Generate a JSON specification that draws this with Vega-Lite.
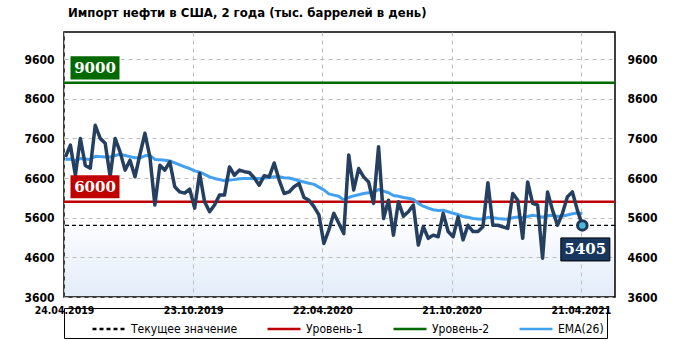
{
  "$schema": "https://vega.github.io/schema/vega-lite/v6.json",
  "width": 551,
  "height": 265,
  "autosize": {"type": "none"},
  "padding": {"left": 64, "top": 32, "right": 67, "bottom": 44},
  "background": "#ffffff",
  "title": {"text": "Импорт  нефти в США, 2 года (тыс. баррелей  в день)", "anchor": "start", "frame": "group", "offset": 12, "dx": 4, "font": "DejaVu Sans Condensed", "fontSize": 13, "fontWeight": "bold", "color": "#000000"},
  "datasets": {
    "series": [
      {"date": "2019-04-26", "value": 7130, "ema": 7070},
      {"date": "2019-05-03", "value": 7430, "ema": 7080},
      {"date": "2019-05-10", "value": 6670, "ema": 7040},
      {"date": "2019-05-17", "value": 7600, "ema": 7090},
      {"date": "2019-05-24", "value": 6920, "ema": 7080},
      {"date": "2019-05-31", "value": 6850, "ema": 7070},
      {"date": "2019-06-07", "value": 7930, "ema": 7150},
      {"date": "2019-06-14", "value": 7600, "ema": 7140},
      {"date": "2019-06-21", "value": 7480, "ema": 7130},
      {"date": "2019-06-28", "value": 6630, "ema": 7130},
      {"date": "2019-07-05", "value": 7600, "ema": 7170},
      {"date": "2019-07-12", "value": 7260, "ema": 7200},
      {"date": "2019-07-19", "value": 6800, "ema": 7170},
      {"date": "2019-07-26", "value": 7050, "ema": 7140},
      {"date": "2019-08-02", "value": 6630, "ema": 7110},
      {"date": "2019-08-09", "value": 7200, "ema": 7110},
      {"date": "2019-08-16", "value": 7730, "ema": 7160},
      {"date": "2019-08-23", "value": 7130, "ema": 7170},
      {"date": "2019-08-30", "value": 5920, "ema": 7070},
      {"date": "2019-09-06", "value": 6920, "ema": 7060},
      {"date": "2019-09-13", "value": 6800, "ema": 7050},
      {"date": "2019-09-20", "value": 7010, "ema": 7030},
      {"date": "2019-09-27", "value": 6380, "ema": 6980},
      {"date": "2019-10-04", "value": 6250, "ema": 6930},
      {"date": "2019-10-11", "value": 6220, "ema": 6880},
      {"date": "2019-10-18", "value": 6320, "ema": 6840},
      {"date": "2019-10-25", "value": 5840, "ema": 6780},
      {"date": "2019-11-01", "value": 6720, "ema": 6750},
      {"date": "2019-11-08", "value": 6000, "ema": 6690},
      {"date": "2019-11-15", "value": 5750, "ema": 6630},
      {"date": "2019-11-22", "value": 5920, "ema": 6590},
      {"date": "2019-11-29", "value": 6170, "ema": 6560},
      {"date": "2019-12-06", "value": 6170, "ema": 6530},
      {"date": "2019-12-13", "value": 6880, "ema": 6550},
      {"date": "2019-12-20", "value": 6670, "ema": 6560},
      {"date": "2019-12-27", "value": 6800, "ema": 6580},
      {"date": "2020-01-03", "value": 6760, "ema": 6590},
      {"date": "2020-01-10", "value": 6740, "ema": 6590},
      {"date": "2020-01-17", "value": 6600, "ema": 6590},
      {"date": "2020-01-24", "value": 6420, "ema": 6590},
      {"date": "2020-01-31", "value": 6660, "ema": 6600},
      {"date": "2020-02-07", "value": 6630, "ema": 6610},
      {"date": "2020-02-14", "value": 6980, "ema": 6630},
      {"date": "2020-02-21", "value": 6550, "ema": 6630},
      {"date": "2020-02-28", "value": 6210, "ema": 6610},
      {"date": "2020-03-06", "value": 6250, "ema": 6600},
      {"date": "2020-03-13", "value": 6380, "ema": 6570},
      {"date": "2020-03-20", "value": 6460, "ema": 6530},
      {"date": "2020-03-27", "value": 6110, "ema": 6500},
      {"date": "2020-04-03", "value": 6040, "ema": 6470},
      {"date": "2020-04-10", "value": 5880, "ema": 6440},
      {"date": "2020-04-17", "value": 5670, "ema": 6370},
      {"date": "2020-04-24", "value": 4950, "ema": 6300},
      {"date": "2020-05-01", "value": 5290, "ema": 6200},
      {"date": "2020-05-08", "value": 5710, "ema": 6170},
      {"date": "2020-05-15", "value": 5460, "ema": 6140},
      {"date": "2020-05-22", "value": 5200, "ema": 6050},
      {"date": "2020-05-29", "value": 7180, "ema": 6110},
      {"date": "2020-06-05", "value": 6300, "ema": 6150},
      {"date": "2020-06-12", "value": 6840, "ema": 6180},
      {"date": "2020-06-19", "value": 6630, "ema": 6210},
      {"date": "2020-06-26", "value": 6500, "ema": 6230},
      {"date": "2020-07-03", "value": 5960, "ema": 6250},
      {"date": "2020-07-10", "value": 7390, "ema": 6310},
      {"date": "2020-07-17", "value": 5580, "ema": 6270},
      {"date": "2020-07-24", "value": 6040, "ema": 6230},
      {"date": "2020-07-31", "value": 5160, "ema": 6160},
      {"date": "2020-08-07", "value": 6000, "ema": 6140},
      {"date": "2020-08-14", "value": 5640, "ema": 6110},
      {"date": "2020-08-21", "value": 5750, "ema": 6090},
      {"date": "2020-08-28", "value": 5920, "ema": 6060},
      {"date": "2020-09-04", "value": 4910, "ema": 5960},
      {"date": "2020-09-11", "value": 5370, "ema": 5890},
      {"date": "2020-09-18", "value": 5080, "ema": 5840},
      {"date": "2020-09-25", "value": 5160, "ema": 5800},
      {"date": "2020-10-02", "value": 5120, "ema": 5780},
      {"date": "2020-10-09", "value": 5710, "ema": 5790},
      {"date": "2020-10-16", "value": 5250, "ema": 5750},
      {"date": "2020-10-23", "value": 5120, "ema": 5710},
      {"date": "2020-10-30", "value": 5620, "ema": 5680},
      {"date": "2020-11-06", "value": 5040, "ema": 5630},
      {"date": "2020-11-13", "value": 5410, "ema": 5610},
      {"date": "2020-11-20", "value": 5250, "ema": 5580},
      {"date": "2020-11-27", "value": 5250, "ema": 5570},
      {"date": "2020-12-04", "value": 5370, "ema": 5560},
      {"date": "2020-12-11", "value": 6480, "ema": 5610},
      {"date": "2020-12-18", "value": 5410, "ema": 5600},
      {"date": "2020-12-25", "value": 5410, "ema": 5580},
      {"date": "2021-01-01", "value": 5370, "ema": 5570},
      {"date": "2021-01-08", "value": 5330, "ema": 5560},
      {"date": "2021-01-15", "value": 6210, "ema": 5600},
      {"date": "2021-01-22", "value": 6040, "ema": 5620},
      {"date": "2021-01-29", "value": 5080, "ema": 5600},
      {"date": "2021-02-05", "value": 6500, "ema": 5630},
      {"date": "2021-02-12", "value": 5960, "ema": 5660},
      {"date": "2021-02-19", "value": 5920, "ema": 5640},
      {"date": "2021-02-26", "value": 4580, "ema": 5610},
      {"date": "2021-03-05", "value": 6250, "ema": 5650},
      {"date": "2021-03-12", "value": 5790, "ema": 5660},
      {"date": "2021-03-19", "value": 5410, "ema": 5630},
      {"date": "2021-03-26", "value": 5710, "ema": 5640},
      {"date": "2021-04-02", "value": 6130, "ema": 5670},
      {"date": "2021-04-09", "value": 6250, "ema": 5700},
      {"date": "2021-04-16", "value": 5790, "ema": 5720},
      {"date": "2021-04-23", "value": 5405, "ema": 5700}
    ],
    "levels": [
      {"name": "Текущее значение", "value": 5405},
      {"name": "Уровень-1", "value": 6000},
      {"name": "Уровень-2", "value": 9000}
    ],
    "last": [
      {"date": "2021-04-23", "value": 5405}
    ]
  },
  "layer": [
    {
      "data": {"name": "levels"},
      "mark": {"type": "rule"},
      "encoding": {
        "y": {
          "field": "value", "type": "quantitative",
          "scale": {"domain": [3600, 10283], "nice": false, "zero": false},
          "axis": {"orient": "left", "values": [3600, 4600, 5600, 6600, 7600, 8600, 9600], "format": "d", "grid": true, "title": null, "labelPadding": 10}
        },
        "color": {
          "field": "name", "type": "nominal",
          "scale": {"domain": ["Текущее значение", "Уровень-1", "Уровень-2", "EMA(26)"], "range": ["#000000", "#c00000", "#006a00", "#42a0f0"]},
          "legend": {"title": null}
        },
        "strokeDash": {
          "field": "name", "type": "nominal",
          "scale": {"domain": ["Текущее значение", "Уровень-1", "Уровень-2", "EMA(26)"], "range": [[4, 3], [1, 0], [1, 0], [1, 0]]},
          "legend": {"title": null}
        },
        "strokeWidth": {"condition": {"test": "datum.name == 'Текущее значение'", "value": 1.2}, "value": 2.5}
      }
    },
    {
      "data": {"name": "series"},
      "mark": {"type": "line", "strokeWidth": 3, "strokeJoin": "round"},
      "encoding": {
        "x": {
          "field": "date", "type": "temporal",
          "scale": {"type": "utc", "domain": [{"year": 2019, "month": 4, "date": 24, "utc": true}, {"year": 2021, "month": 6, "date": 8, "utc": true}]},
          "axis": {
            "values": [
              {"year": 2019, "month": 4, "date": 24, "utc": true},
              {"year": 2019, "month": 10, "date": 23, "utc": true},
              {"year": 2020, "month": 4, "date": 22, "utc": true},
              {"year": 2020, "month": 10, "date": 21, "utc": true},
              {"year": 2021, "month": 4, "date": 21, "utc": true}
            ],
            "format": "%d.%m.%Y", "grid": true, "title": null, "labelOverlap": false, "labelFlush": false,
            "labelFontSize": 10.5, "labelPadding": 8
          }
        },
        "y": {
          "field": "ema", "type": "quantitative",
          "axis": {"orient": "right", "values": [3600, 4600, 5600, 6600, 7600, 8600, 9600], "format": "d", "grid": false, "title": null, "labelPadding": 12}
        },
        "color": {"datum": "EMA(26)", "type": "nominal"}
      }
    },
    {
      "data": {"name": "series"},
      "mark": {"type": "line", "color": "#243f60", "strokeWidth": 3.5, "strokeJoin": "round"},
      "encoding": {
        "x": {"field": "date", "type": "temporal"},
        "y": {"field": "value", "type": "quantitative", "axis": null}
      }
    },
    {
      "data": {"name": "levels"},
      "transform": [{"filter": "datum.name != 'Текущее значение'"}],
      "mark": {"type": "point", "shape": "M-1,-0.47H1V0.47H-1Z", "size": 2401, "filled": true, "opacity": 1, "strokeWidth": 0, "xOffset": 31, "yOffset": -15},
      "encoding": {
        "x": {"datum": {"year": 2019, "month": 4, "date": 24, "utc": true}, "type": "temporal"},
        "y": {"field": "value", "type": "quantitative", "axis": null},
        "fill": {"field": "name", "type": "nominal", "scale": {"domain": ["Уровень-1", "Уровень-2"], "range": ["#c00000", "#006a00"]}, "legend": null}
      }
    },
    {
      "data": {"name": "levels"},
      "transform": [{"filter": "datum.name != 'Текущее значение'"}],
      "mark": {"type": "text", "font": "DejaVu Serif", "fontWeight": "bold", "fontSize": 15, "color": "#ffffff", "align": "center", "baseline": "middle", "xOffset": 31, "yOffset": -15},
      "encoding": {
        "x": {"datum": {"year": 2019, "month": 4, "date": 24, "utc": true}, "type": "temporal"},
        "y": {"field": "value", "type": "quantitative", "axis": null},
        "text": {"field": "value", "type": "quantitative", "format": "d"}
      }
    },
    {
      "data": {"name": "last"},
      "mark": {"type": "point", "shape": "circle", "size": 90, "filled": true, "opacity": 1, "fill": "#4fb8dc", "stroke": "#1f3858", "strokeWidth": 3},
      "encoding": {
        "x": {"field": "date", "type": "temporal"},
        "y": {"field": "value", "type": "quantitative", "axis": null}
      }
    },
    {
      "data": {"name": "last"},
      "mark": {"type": "point", "shape": "M-1,-0.47H1V0.47H-1Z", "size": 2401, "filled": true, "opacity": 1, "fill": "#17375e", "stroke": "#000000", "strokeWidth": 1, "xOffset": 3, "yOffset": 24},
      "encoding": {
        "x": {"field": "date", "type": "temporal"},
        "y": {"field": "value", "type": "quantitative", "axis": null}
      }
    },
    {
      "data": {"name": "last"},
      "mark": {"type": "text", "font": "DejaVu Serif", "fontWeight": "bold", "fontSize": 15, "color": "#ffffff", "align": "center", "baseline": "middle", "xOffset": 3, "yOffset": 24},
      "encoding": {
        "x": {"field": "date", "type": "temporal"},
        "y": {"field": "value", "type": "quantitative", "axis": null},
        "text": {"field": "value", "type": "quantitative", "format": "d"}
      }
    }
  ],
  "resolve": {"axis": {"y": "independent"}},
  "config": {
    "view": {
      "stroke": "#000000",
      "strokeWidth": 1.5,
      "fill": {"gradient": "linear", "x1": 0, "y1": 0, "x2": 0, "y2": 1, "stops": [{"offset": 0, "color": "#ffffff"}, {"offset": 0.7, "color": "#ffffff"}, {"offset": 1, "color": "#e2ecf9"}]}
    },
    "axis": {
      "labelFont": "DejaVu Sans Condensed",
      "labelFontSize": 12,
      "labelFontWeight": "bold",
      "labelColor": "#000000",
      "ticks": false,
      "domain": false,
      "gridColor": "#bdbdbd",
      "gridDash": [4, 4],
      "gridWidth": 1
    },
    "legend": {
      "orient": "none",
      "legendX": 0,
      "legendY": 276,
      "direction": "horizontal",
      "columns": 4,
      "strokeColor": "#000000",
      "padding": 3,
      "symbolType": "stroke",
      "symbolSize": 1089,
      "symbolStrokeWidth": 2.5,
      "symbolOffset": 24,
      "columnPadding": 4,
      "labelOffset": 4,
      "labelFont": "DejaVu Sans Condensed",
      "labelFontSize": 12,
      "labelColor": "#000000"
    }
  }
}
